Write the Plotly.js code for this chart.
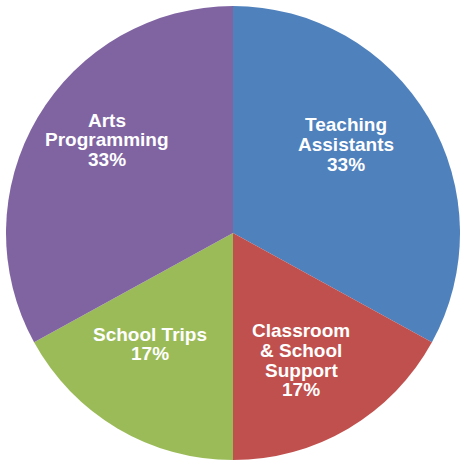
<!DOCTYPE html>
<html><head><meta charset="utf-8">
<script src="https://cdn.plot.ly/plotly-3.0.1.min.js"></script>
<style>html,body{margin:0;padding:0;background:#fff}#chart{width:467px;height:467px}</style>
</head><body><div id="chart"></div>
<script>
const categories = ["Teaching<br>Assistants", "Classroom<br>& School<br>Support", "School Trips", "Arts<br>Programming"];
const values = [33, 17, 17, 33];
const colors = ["#4F81BD", "#C0504D", "#9BBB59", "#8064A2"];

// label layout: [center x px, first baseline y px]
const labelPos = [[346, 131.5], [301, 337.5], [150, 341], [107, 127]];
const W = 467, H = 467, PITCH = 19.7, FS = 19;

const total = values.reduce((a, b) => a + b, 0);
const annotations = [];
categories.forEach((c, i) => {
  const lines = c.split("<br>").concat([Math.round(values[i] / total * 100) + "%"]);
  lines.forEach((t, j) => {
    const base = labelPos[i][1] + j * PITCH;
    annotations.push({
      text: t, showarrow: false, xref: "paper", yref: "paper",
      x: labelPos[i][0] / W, y: 1 - (base - 6.8) / H,
      xanchor: "center", yanchor: "middle",
      font: {family: "Liberation Sans, Arial, sans-serif", size: FS, color: "#ffffff", weight: "bold"}
    });
  });
});

Plotly.newPlot("chart", [{
  type: "pie",
  labels: categories,
  values: values,
  sort: false,
  direction: "clockwise",
  rotation: 0,
  marker: {colors: colors, line: {width: 0}},
  textinfo: "none",
  domain: {x: [6 / W, 460 / W], y: [7 / H, 461 / H]},
  hoverinfo: "none"
}], {
  width: W, height: H,
  margin: {l: 0, r: 0, t: 0, b: 0},
  showlegend: false,
  paper_bgcolor: "#ffffff",
  annotations: annotations
}, {staticPlot: true});
</script></body></html>
